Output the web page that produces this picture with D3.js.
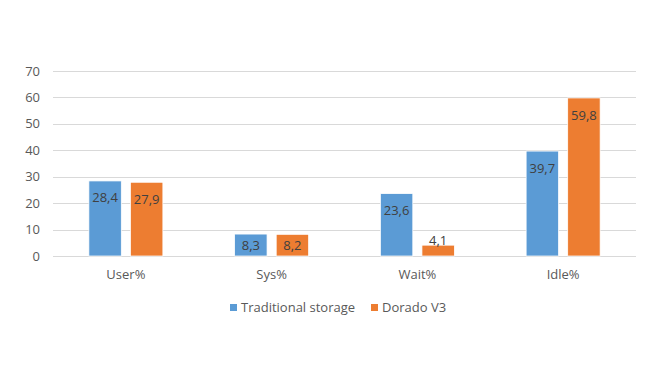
<!DOCTYPE html>
<html>
<head>
<meta charset="utf-8">
<script src="https://cdn.jsdelivr.net/npm/d3@7"></script>
<style>
  body { margin: 0; background: #fff; }
  svg text { font-family: "Open Sans", "Noto Sans", sans-serif; }
</style>
</head>
<body>
<div id="chart"></div>
<script>
// data
var categories = ["User%", "Sys%", "Wait%", "Idle%"];
var seriesNames = ["Traditional storage", "Dorado V3"];
var traditional = [28.4, 8.3, 23.6, 39.7];
var dorado = [27.9, 8.2, 4.1, 59.8];
var yTicks = [0, 10, 20, 30, 40, 50, 60, 70];

var colors = ["#5B9BD5", "#ED7D31"];

var margin = {top: 71, right: 36, bottom: 122, left: 53};
var width = 672 - margin.left - margin.right,
    height = 378 - margin.top - margin.bottom;

var svg = d3.select("#chart")
  .append("svg")
  .attr("width", 672)
  .attr("height", 378);

var g = svg.append("g")
  .attr("transform", "translate(" + margin.left + "," + margin.top + ")");

var x = d3.scaleBand()
  .domain(categories)
  .range([0, width]);

var x1 = d3.scaleBand()
  .domain([0, 1])
  .range([0, 74])
  .paddingInner(0.22);

var y = d3.scaleLinear()
  .domain([0, 70])
  .range([height, 0]);

// gridlines
g.append("g")
  .selectAll("line")
  .data(yTicks)
  .enter().append("line")
  .attr("x1", 0)
  .attr("x2", width)
  .attr("y1", function(d) { return Math.round(y(d)) + 0.5; })
  .attr("y2", function(d) { return Math.round(y(d)) + 0.5; })
  .attr("stroke", "#D9D9D9")
  .attr("stroke-width", 1);

// y labels
g.append("g")
  .selectAll("text")
  .data(yTicks)
  .enter().append("text")
  .attr("x", -13)
  .attr("y", function(d) { return y(d); })
  .attr("dy", "0.35em")
  .attr("text-anchor", "end")
  .attr("font-size", "13px")
  .attr("fill", "#595959")
  .text(function(d) { return d; });

var rows = categories.map(function(c, i) {
  return {cat: c, vals: [traditional[i], dorado[i]]};
});

var groups = g.append("g")
  .selectAll("g")
  .data(rows)
  .enter().append("g")
  .attr("transform", function(d) {
    return "translate(" + (x(d.cat) + (x.bandwidth() - 74) / 2) + ",0)";
  });

var cells = groups.selectAll("g")
  .data(function(d) { return d.vals.map(function(v, j) { return {v: v, j: j}; }); })
  .enter().append("g");

cells.append("rect")
  .attr("x", function(d) { return x1(d.j); })
  .attr("y", function(d) { return y(d.v); })
  .attr("width", x1.bandwidth())
  .attr("height", function(d) { return height - y(d.v); })
  .attr("fill", function(d) { return colors[d.j]; })
  .attr("stroke", "#fff")
  .attr("stroke-width", 0.75);

// value labels, inside end (above if the bar is too short)
function labelY(d) {
  var h = height - y(d.v);
  if (h > 30) return y(d.v) + 17;
  if (h > 16) return y(d.v) + h / 2;
  return y(d.v) - 5;
}

cells.append("text")
  .attr("x", function(d) { return x1(d.j) + x1.bandwidth() / 2; })
  .attr("y", labelY)
  .attr("dy", "0.35em")
  .attr("text-anchor", "middle")
  .attr("font-size", "13px")
  .attr("fill", "#404040")
  .text(function(d) { return String(d.v).replace(".", ","); });

// category labels
g.append("g")
  .selectAll("text")
  .data(categories)
  .enter().append("text")
  .attr("x", function(d) { return x(d) + x.bandwidth() / 2; })
  .attr("y", height + 18)
  .attr("dy", "0.35em")
  .attr("text-anchor", "middle")
  .attr("font-size", "13px")
  .attr("fill", "#595959")
  .text(function(d) { return d; });

// legend
var legendX = [230, 371];
var legend = svg.append("g")
  .selectAll("g")
  .data(seriesNames)
  .enter().append("g")
  .attr("transform", function(d, i) { return "translate(" + legendX[i] + ",304)"; });

legend.append("rect")
  .attr("width", 7)
  .attr("height", 7)
  .attr("fill", function(d, i) { return colors[i]; });

legend.append("text")
  .attr("x", 11)
  .attr("y", 3.5)
  .attr("dy", "0.35em")
  .attr("font-size", "13px")
  .attr("fill", "#595959")
  .text(function(d) { return d; });
</script>
</body>
</html>
